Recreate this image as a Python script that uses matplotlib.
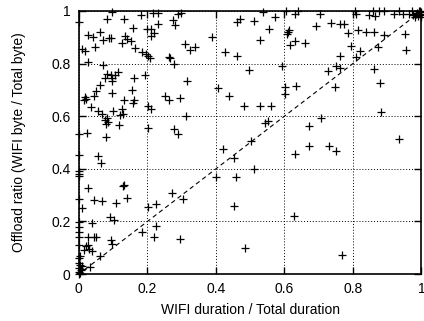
import matplotlib
matplotlib.use("Agg")
import matplotlib.pyplot as plt

plt.rcParams['font.family'] = ['Liberation Sans', 'DejaVu Sans']

tick_values = [0, 0.2, 0.4, 0.6, 0.8, 1]
tick_labels = ["0", "0.2", "0.4", "0.6", "0.8", "1"]

# WIFI duration / Total duration
wifi_duration_top = [0.097, 0.083, 0.131, 0.182, 0.217, 0.230, 0.231, 0.158, 0.198, 0.210, 0.0, 0.027, 0.041,
                     0.061, 0.070, 0.087, 0.095, 0.134, 0.140, 0.153, 0.125, 0.165, 0.185, 0.197, 0.212, 0.218,
                     0.201, 0.208, 0.008, 0.017, 0.046, 0.026, 0.070,
                     0.290, 0.297, 0.275, 0.282, 0.264, 0.267, 0.279, 0.310, 0.323, 0.339, 0.389, 0.428, 0.462,
                     0.461, 0.471, 0.510, 0.537, 0.573, 0.604, 0.630, 0.641, 0.556, 0.529, 0.608, 0.611, 0.614,
                     0.615, 0.632, 0.661, 0.692, 0.705, 0.737, 0.763, 0.775, 0.787, 0.805, 0.809, 0.814, 0.838,
                     0.862, 0.890, 0.953, 0.795, 0.820, 0.810, 0.872, 0.955, 0.763, 0.846, 0.865, 0.860, 0.875,
                     0.890, 0.919, 0.933, 0.945, 0.963, 0.972, 0.987, 0.994, 0.997, 1.0, 1.0, 0.990, 0.980, 1.0,
                     0.995, 0.985, 0.975]
offload_ratio_top = [0.995, 0.971, 0.971, 0.983, 0.992, 0.992, 0.951, 0.936, 0.932, 0.932, 0.958, 0.907, 0.900,
                     0.920, 0.890, 0.898, 0.898, 0.906, 0.895, 0.887, 0.878, 0.860, 0.845, 0.838, 0.904, 0.915,
                     0.829, 0.822, 0.855, 0.848, 0.862, 0.807, 0.795,
                     0.990, 0.992, 0.966, 0.946, 0.826, 0.820, 0.799, 0.875, 0.853, 0.863, 0.900, 0.845, 0.829,
                     0.958, 0.968, 0.960, 0.997, 0.977, 1.0, 0.990, 0.998, 0.930, 0.891, 0.914, 0.920, 0.927,
                     0.870, 0.885, 0.879, 0.942, 0.987, 0.955, 0.952, 0.952, 0.917, 0.999, 0.990, 0.927, 0.921,
                     0.921, 0.908, 0.914, 0.866, 0.847, 0.825, 0.862, 0.853, 0.828, 0.984, 0.980, 0.999, 0.999,
                     0.999, 0.990, 1.0, 0.990, 0.990, 0.999, 0.993, 0.999, 0.987, 0.995, 0.985, 0.980, 0.975, 0.975,
                     1.0, 0.990, 0.985]

wifi_duration_mid = [0.082, 0.094, 0.106, 0.113, 0.075, 0.096, 0.098, 0.062, 0.051, 0.043, 0.018, 0.021, 0.015,
                     0.096, 0.160, 0.192, 0.155, 0.133, 0.160, 0.157, 0.036, 0.057, 0.067, 0.101, 0.126, 0.128,
                     0.121, 0.201, 0.211, 0.082, 0.077, 0.085, 0.079, 0.116, 0.201, 0.023, 0.0, 0.080,
                     0.316, 0.407, 0.252, 0.263, 0.294, 0.439, 0.481, 0.314, 0.277, 0.290,
                     0.497, 0.593, 0.726, 0.750, 0.763, 0.862, 0.878, 0.602, 0.634, 0.601, 0.748,
                     0.529, 0.561, 0.881, 0.542, 0.552, 0.707, 0.672, 0.502, 0.935]
offload_ratio_mid = [0.762, 0.755, 0.755, 0.768, 0.747, 0.734, 0.747, 0.720, 0.696, 0.676, 0.673, 0.667, 0.663,
                     0.688, 0.747, 0.755, 0.701, 0.663, 0.660, 0.651, 0.635, 0.620, 0.610, 0.620, 0.629, 0.610,
                     0.603, 0.639, 0.626, 0.593, 0.584, 0.578, 0.569, 0.565, 0.556, 0.538, 0.532, 0.522,
                     0.734, 0.707, 0.678, 0.662, 0.671, 0.677, 0.637, 0.601, 0.552, 0.532,
                     0.774, 0.790, 0.773, 0.790, 0.784, 0.781, 0.728, 0.711, 0.714, 0.686, 0.711,
                     0.637, 0.640, 0.616, 0.576, 0.583, 0.593, 0.564, 0.505, 0.512]

wifi_duration_low = [0.0, 0.057, 0.065, 0.0, 0.0, 0.0, 0.671, 0.731, 0.750, 0.632, 0.422, 0.452, 0.400, 0.459,
                     0.511,
                     0.027, 0.128, 0.133, 0.0, 0.043, 0.068, 0.109, 0.140, 0.009, 0.201, 0.225, 0.090, 0.104,
                     0.0, 0.038, 0.0, 0.0, 0.0, 0.026, 0.043, 0.050, 0.094, 0.096, 0.185, 0.225, 0.218, 0.0,
                     0.020, 0.026, 0.030, 0.014, 0.038, 0.004, 0.0, 0.062, 0.033,
                     0.273, 0.303, 0.295, 0.452, 0.629, 0.484, 0.768,
                     0.0, 0.003, 0.0, 0.005, 0.0, 0.004, 0.0, 0.008, 0.010]
offload_ratio_low = [0.454, 0.448, 0.422, 0.391, 0.382, 0.374, 0.488, 0.488, 0.467, 0.456, 0.475, 0.441, 0.368,
                     0.370, 0.400,
                     0.327, 0.334, 0.337, 0.286, 0.281, 0.279, 0.270, 0.289, 0.250, 0.256, 0.268, 0.216, 0.204,
                     0.198, 0.195, 0.178, 0.160, 0.140, 0.141, 0.141, 0.141, 0.131, 0.116, 0.159, 0.184, 0.141,
                     0.109, 0.105, 0.109, 0.097, 0.093, 0.087, 0.067, 0.061, 0.067, 0.029,
                     0.308, 0.284, 0.133, 0.258, 0.219, 0.098, 0.071,
                     0.042, 0.033, 0.023, 0.016, 0.010, 0.004, 0.0, 0.020, 0.030]

wifi_duration = wifi_duration_top + wifi_duration_mid + wifi_duration_low
offload_ratio = offload_ratio_top + offload_ratio_mid + offload_ratio_low

fig = plt.figure(figsize=(4.24, 3.21), dpi=100)
ax = fig.add_axes([0.186, 0.146, 0.808, 0.820])

ax.plot([0, 1], [0, 1], linestyle=(0, (4, 3)), color='black', linewidth=0.8, zorder=2)
ax.plot(wifi_duration, offload_ratio, linestyle='none', marker='+', markersize=6,
        markeredgewidth=0.9, color='black', clip_on=False, zorder=3)

ax.set_xlim(0, 1)
ax.set_ylim(0, 1)
ax.set_xticks(tick_values)
ax.set_xticklabels(tick_labels)
ax.set_yticks(tick_values)
ax.set_yticklabels(tick_labels)
ax.grid(True, color='black', linestyle=(0, (1, 2)), linewidth=0.7)
ax.tick_params(direction='in', length=5, width=1, top=True, right=True, labelsize=10, pad=6)
for s in ax.spines.values():
    s.set_linewidth(1.2)

ax.set_xlabel("WIFI duration / Total duration", fontsize=10, labelpad=5)
ax.set_ylabel("Offload ratio (WIFI byte / Total byte)", fontsize=10, labelpad=18)

fig.savefig("out.png", dpi=100)
